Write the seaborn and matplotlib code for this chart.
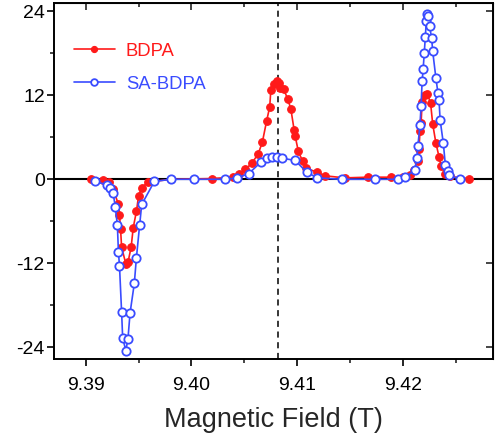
import numpy as np
import pandas as pd
import matplotlib
matplotlib.use("Agg")
import matplotlib.pyplot as plt
import seaborn as sns
from matplotlib.ticker import MultipleLocator

# ---- data ----
bdpa_field = [9.3905, 9.3916, 9.3922, 9.3926, 9.3931, 9.3932, 9.3933, 9.3934, 9.3938, 9.3940,
              9.3943, 9.3945, 9.3948, 9.3950, 9.3953, 9.3959, 9.3981, 9.4019, 9.4039, 9.4045,
              9.4051, 9.4057, 9.4063, 9.4067, 9.4071, 9.4074, 9.4075, 9.4078, 9.4081, 9.4083,
              9.4084, 9.4087, 9.4091, 9.4094, 9.4097, 9.4098, 9.4101, 9.4105, 9.4108, 9.4119,
              9.4126, 9.4145, 9.4167, 9.4189, 9.4200, 9.4207, 9.4210, 9.4214, 9.4215, 9.4216,
              9.4217, 9.4218, 9.4221, 9.4223, 9.4226, 9.4228, 9.4231, 9.4234, 9.4236, 9.4240,
              9.4244, 9.4262]
bdpa_signal = [0.0, -0.1, -0.4, -1.4, -3.6, -5.1, -7.1, -9.7, -12.1, -11.9,
               -9.7, -6.9, -4.6, -2.4, -1.2, -0.4, 0.0, 0.1, 0.3, 0.8,
               1.4, 2.3, 3.6, 5.3, 8.3, 10.4, 12.7, 13.6, 14.0, 13.8,
               13.1, 12.9, 11.5, 10.0, 7.1, 6.2, 4.0, 2.6, 1.6, 1.0,
               0.5, 0.2, 0.3, 0.3, 0.3, 0.6, 1.3, 2.6, 4.3, 6.9,
               8.0, 11.0, 12.1, 12.2, 10.9, 7.9, 5.2, 3.2, 1.9, 0.8,
               0.4, 0.1]

sabdpa_field = [9.3909, 9.3920, 9.3923, 9.3926, 9.3928, 9.3930, 9.3931, 9.3932, 9.3934, 9.3935,
                9.3938, 9.3940, 9.3942, 9.3946, 9.3948, 9.3951, 9.3953, 9.3965, 9.3981, 9.4002,
                9.4032, 9.4043, 9.4054, 9.4066, 9.4071, 9.4076, 9.4081, 9.4086, 9.4098, 9.4109,
                9.4119, 9.4142, 9.4173, 9.4195, 9.4202, 9.4211, 9.4213, 9.4214, 9.4216, 9.4217,
                9.4218, 9.4219, 9.4220, 9.4221, 9.4222, 9.4223, 9.4224, 9.4225, 9.4227, 9.4228,
                9.4231, 9.4233, 9.4234, 9.4235, 9.4238, 9.4240, 9.4242, 9.4243, 9.4254]
sabdpa_signal = [-0.3, -0.8, -1.3, -2.0, -3.9, -6.6, -10.4, -12.4, -19.0, -22.7,
                 -24.5, -22.8, -19.1, -14.9, -11.2, -6.6, -3.6, -0.3, 0.0, 0.0,
                 0.0, 0.2, 0.8, 2.5, 3.0, 3.2, 3.2, 3.0, 2.7, 1.0,
                 0.2, 0.0, 0.0, 0.0, 0.3, 1.3, 3.0, 4.8, 7.8, 10.5,
                 14.0, 15.8, 18.0, 20.3, 22.7, 23.6, 23.4, 21.9, 20.2, 18.3,
                 14.5, 12.3, 11.3, 8.5, 5.2, 2.0, 1.2, 0.6, 0.0]

series_labels = ["BDPA", "SA-BDPA"]
center_field = 9.4082
x_ticks = [9.39, 9.40, 9.41, 9.42]
y_ticks = [-24, -12, 0, 12, 24]
x_label = "Magnetic Field (T)"

RED = "#ff1a1a"
BLUE = "#3a4cff"

sns.set_style("ticks")
plt.rcParams["font.family"] = ["Liberation Sans", "DejaVu Sans"]

fig = plt.figure(figsize=(4.99, 4.37), dpi=100)
ax = fig.add_axes([0.108, 0.1785, 0.880, 0.8145])

df_a = pd.DataFrame({"x": bdpa_field, "y": bdpa_signal})
df_b = pd.DataFrame({"x": sabdpa_field, "y": sabdpa_signal})

# zero line and center line
ax.axhline(0, color="black", lw=1.5, zorder=1)
ax.axvline(center_field, color="black", lw=1.1, ls=(0, (4, 3)), zorder=1)

sns.lineplot(data=df_a, x="x", y="y", ax=ax, sort=False, estimator=None,
             color=RED, lw=1.2, marker="o", markersize=5.5,
             markerfacecolor=RED, markeredgecolor=RED, markeredgewidth=0.8, zorder=3)
sns.lineplot(data=df_b, x="x", y="y", ax=ax, sort=False, estimator=None,
             color=BLUE, lw=1.2, marker="o", markersize=6,
             markerfacecolor="white", markeredgecolor=BLUE, markeredgewidth=1.3, zorder=4)

lines = ax.get_lines()[-2:]
leg = ax.legend(lines, series_labels, loc="upper left", bbox_to_anchor=(0.008, 0.935),
                frameon=False, fontsize=13.3, handlelength=2.2, handletextpad=0.6,
                labelspacing=0.85, labelcolor=[RED, BLUE], markerscale=0.8)

ax.set_xlim(9.387, 9.4285)
ax.set_ylim(-25.7, 25.2)
ax.set_xticks(x_ticks)
ax.set_xticklabels([f"{v:.2f}" for v in x_ticks])
ax.set_yticks(y_ticks)
ax.set_yticklabels([str(v) for v in y_ticks])
ax.xaxis.set_minor_locator(MultipleLocator(0.005))
ax.yaxis.set_minor_locator(MultipleLocator(6))

ax.set_xlabel(x_label, fontsize=19.5, labelpad=9)
ax.set_ylabel("")

for s in ax.spines.values():
    s.set_visible(True)
    s.set_linewidth(1.4)
    s.set_color("black")

ax.tick_params(axis="both", which="major", direction="out", length=5, width=1.2,
               labelsize=14, colors="black")
ax.tick_params(axis="x", which="major", pad=8)
ax.tick_params(axis="y", which="major", pad=1.5)
ax.tick_params(axis="both", which="minor", direction="out", length=3, width=1.2)

# mirrored inward ticks on top/right
axt = ax.secondary_xaxis("top")
axt.set_xticks(x_ticks)
axt.xaxis.set_minor_locator(MultipleLocator(0.005))
axt.tick_params(which="major", direction="in", length=5, width=1.2, labeltop=False)
axt.tick_params(which="minor", direction="in", length=3, width=1.2)
axt.set_xticklabels([])
axr = ax.secondary_yaxis("right")
axr.set_yticks(y_ticks)
axr.tick_params(which="major", direction="in", length=5, width=1.2)
axr.set_yticklabels([])

fig.savefig("out.png", dpi=100)
